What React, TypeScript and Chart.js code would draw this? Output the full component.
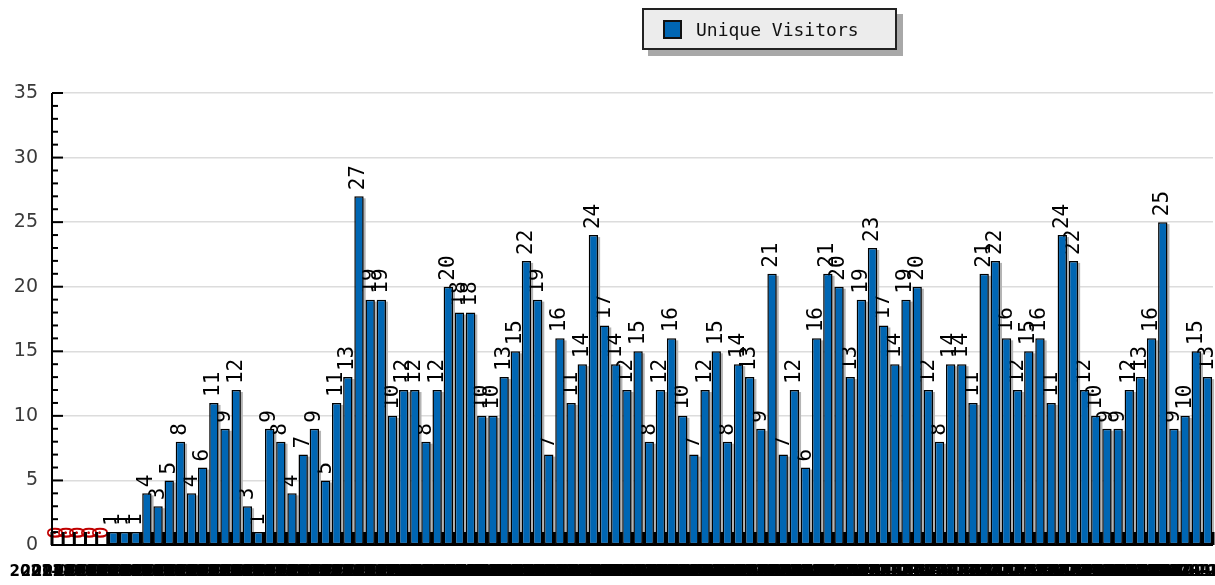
import React, { useEffect, useRef } from "react";
import { Chart, registerables } from "chart.js";

Chart.register(...registerables);

const categories = [
  "2021-09-01","2021-09-02","2021-09-03","2021-09-04","2021-09-05","2021-09-06","2021-09-07","2021-09-08","2021-09-09","2021-09-10",
  "2021-09-11","2021-09-12","2021-09-13","2021-09-14","2021-09-15","2021-09-16","2021-09-17","2021-09-18","2021-09-19","2021-09-20",
  "2021-09-21","2021-09-22","2021-09-23","2021-09-24","2021-09-25","2021-09-26","2021-09-27","2021-09-28","2021-09-29","2021-09-30",
  "2021-10-01","2021-10-02","2021-10-03","2021-10-04","2021-10-05","2021-10-06","2021-10-07","2021-10-08","2021-10-09","2021-10-10",
  "2021-10-11","2021-10-12","2021-10-13","2021-10-14","2021-10-15","2021-10-16","2021-10-17","2021-10-18","2021-10-19","2021-10-20",
  "2021-10-21","2021-10-22","2021-10-23","2021-10-24","2021-10-25","2021-10-26","2021-10-27","2021-10-28","2021-10-29","2021-10-30",
  "2021-10-31","2021-11-01","2021-11-02","2021-11-03","2021-11-04","2021-11-05","2021-11-06","2021-11-07","2021-11-08","2021-11-09",
  "2021-11-10","2021-11-11","2021-11-12","2021-11-13","2021-11-14","2021-11-15","2021-11-16","2021-11-17","2021-11-18","2021-11-19",
  "2021-11-20","2021-11-21","2021-11-22","2021-11-23","2021-11-24","2021-11-25","2021-11-26","2021-11-27","2021-11-28","2021-11-29",
  "2021-11-30","2021-12-01","2021-12-02","2021-12-03","2021-12-04","2021-12-05","2021-12-06","2021-12-07","2021-12-08","2021-12-09",
  "2021-12-10","2021-12-11","2021-12-12","2021-12-13"
];

const uniqueVisitors = [
  0, 0, 0, 0, 0, 1, 1, 1, 4, 3,
  5, 8, 4, 6, 11, 9, 12, 3, 1, 9,
  8, 4, 7, 9, 5, 11, 13, 27, 19, 19,
  10, 12, 12, 8, 12, 20, 18, 18, 10, 10,
  13, 15, 22, 19, 7, 16, 11, 14, 24, 17,
  14, 12, 15, 8, 12, 16, 10, 7, 12, 15,
  8, 14, 13, 9, 21, 7, 12, 6, 16, 21,
  20, 13, 19, 23, 17, 14, 19, 20, 12, 8,
  14, 14, 11, 21, 22, 16, 12, 15, 16, 11,
  24, 22, 12, 10, 9, 9, 12, 13, 16, 25,
  9, 10, 15, 13
];

const seriesName = "Unique Visitors";
const yMin = 0;
const yMax = 35;
const yStep = 5;

const BLUE = "#0066b3";

export default function App() {
  const ref = useRef<HTMLCanvasElement>(null);

  useEffect(() => {
    document.body.style.margin = "0";
    if (!ref.current) return;

    const decor = {
      id: "decor",
      beforeDatasetsDraw(chart: any) {
        const { ctx } = chart;
        const meta = chart.getDatasetMeta(0);
        ctx.save();
        // shadows
        ctx.fillStyle = "#b4b4b4";
        meta.data.forEach((bar: any, i: number) => {
          if (uniqueVisitors[i] <= 0) return;
          const p = bar.getProps(["x", "y", "base", "width"], true);
          ctx.fillRect(p.x - p.width / 2 + 2, p.y + 2, p.width, p.base - p.y - 2);
        });
        // value labels
        ctx.font = "21px 'DejaVu Sans Mono'";
        ctx.textAlign = "left";
        ctx.textBaseline = "middle";
        meta.data.forEach((bar: any, i: number) => {
          const p = bar.getProps(["x", "y"], true);
          const v = uniqueVisitors[i];
          ctx.save();
          ctx.translate(p.x, p.y - 6);
          ctx.rotate(-Math.PI / 2);
          ctx.fillStyle = v === 0 ? "#c00000" : "#000";
          ctx.fillText(String(v), 0, 0);
          ctx.restore();
        });
        ctx.restore();
      },
      afterDatasetsDraw(chart: any) {
        const { ctx, chartArea, scales } = chart;
        const xs = scales.x;
        const ys = scales.y;
        ctx.save();
        ctx.strokeStyle = "#000";
        // x feet ticks at category boundaries
        ctx.lineWidth = 3;
        const n = categories.length;
        const pitch = n > 1 ? xs.getPixelForValue(1) - xs.getPixelForValue(0) : 10;
        for (let i = 0; i <= n; i++) {
          const x = xs.getPixelForValue(Math.min(i, n - 1)) + (i === n ? pitch / 2 : -pitch / 2);
          ctx.beginPath();
          ctx.moveTo(x, chartArea.bottom);
          ctx.lineTo(x, chartArea.bottom - 13);
          ctx.stroke();
        }
        // y ticks (inward), major and minor
        ctx.lineWidth = 2;
        for (let v = yMin; v <= yMax; v++) {
          const y = ys.getPixelForValue(v);
          const len = v % yStep === 0 ? 11 : 6;
          ctx.beginPath();
          ctx.moveTo(chartArea.left, y);
          ctx.lineTo(chartArea.left + len, y);
          ctx.stroke();
        }
        // axis lines
        ctx.beginPath();
        ctx.moveTo(chartArea.left, chartArea.top);
        ctx.lineTo(chartArea.left, chartArea.bottom);
        ctx.lineTo(chartArea.right, chartArea.bottom);
        ctx.stroke();
        ctx.restore();
      },
    };

    const chart = new Chart(ref.current, {
      type: "bar",
      data: {
        labels: categories,
        datasets: [
          {
            label: seriesName,
            data: uniqueVisitors,
            backgroundColor: BLUE,
            borderColor: "#000",
            borderWidth: 1.5,
            borderSkipped: false,
            categoryPercentage: 1,
            barPercentage: 0.84,
          },
        ],
      },
      options: {
        animation: false,
        responsive: true,
        maintainAspectRatio: false,
        layout: { autoPadding: false, padding: { top: 93, right: 2, left: 0, bottom: 0 } },
        plugins: {
          legend: { display: false },
          tooltip: { enabled: false },
        },
        scales: {
          x: {
            type: "category",
            offset: true,
            grid: { display: false, drawTicks: false },
            border: { display: false },
            ticks: {
              autoSkip: false,
              maxRotation: 0,
              minRotation: 0,
              padding: 18,
              color: "#000",
              font: { family: "'DejaVu Sans'", size: 15, weight: "bold" },
            },
            afterFit: (s: any) => {
              s.height = 40;
              s.paddingLeft = 0;
              s.paddingRight = 0;
            },
          },
          y: {
            min: yMin,
            max: yMax,
            ticks: {
              stepSize: yStep,
              padding: 14,
              color: "#3a3a3a",
              font: { family: "'DejaVu Sans'", size: 19 },
            },
            grid: { color: "#dcdcdc", lineWidth: 1.5, drawTicks: false },
            border: { display: false },
            afterFit: (s: any) => {
              s.width = 52;
            },
          },
        },
      },
      plugins: [decor],
    });

    return () => chart.destroy();
  }, []);

  return (
    <div style={{ position: "relative", width: 1215, height: 585, background: "#fff" }}>
      <canvas ref={ref} style={{ position: "absolute", left: 0, top: 0 }} />
      <div
        style={{
          position: "absolute",
          left: 642,
          top: 8,
          width: 251,
          height: 38,
          background: "#ececec",
          border: "2px solid #222",
          boxShadow: "6px 6px 0 #a8a8a8",
          display: "flex",
          alignItems: "center",
          fontFamily: "'DejaVu Sans Mono', monospace",
          fontSize: 18,
          color: "#111",
        }}
      >
        <div
          style={{
            width: 15,
            height: 15,
            marginLeft: 19,
            marginRight: 14,
            background: BLUE,
            border: "2px solid #111",
          }}
        />
        <span>{seriesName}</span>
      </div>
    </div>
  );
}
